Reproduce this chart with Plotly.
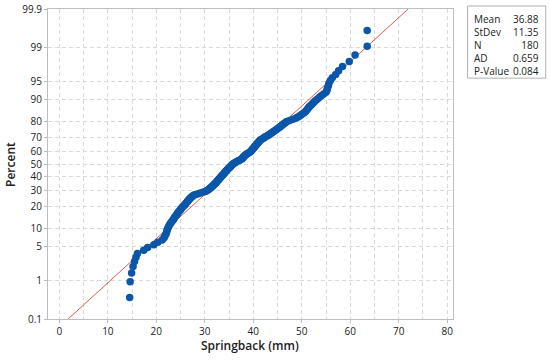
import plotly.graph_objects as go
from statistics import NormalDist

# Springback values (mm), sorted
springback = [
    14.5, 14.6, 14.9, 15.2, 15.5, 15.8, 16.1, 17.4, 18.2, 19.5,
    20.3, 21.2, 21.6, 21.8, 22.0, 22.1, 22.2, 22.3, 22.5, 22.6,
    22.8, 23.0, 23.2, 23.4, 23.6, 23.7, 23.9,
    24.1, 24.3, 24.4, 24.6, 24.8, 25.0, 25.1, 25.3,
    25.5, 25.7, 25.9, 26.0, 26.2, 26.4, 26.5, 26.7, 26.8, 27.0,
    27.2, 27.4, 27.6,
    27.9, 28.5, 29.1, 29.6, 30.1, 30.4, 30.7, 30.9, 31.1,
    31.3, 31.4, 31.6, 31.8, 31.9, 32.1, 32.2, 32.4, 32.5,
    32.6, 32.8, 32.9, 33.0, 33.2, 33.3, 33.4, 33.6, 33.7, 33.8, 34.0, 34.1, 34.2, 34.3, 34.5, 34.6,
    34.7, 34.9, 35.0, 35.2, 35.3, 35.4, 35.6, 35.7, 35.9,
    36.1, 36.4, 36.6, 36.9, 37.2, 37.4, 37.7,
    37.8, 37.9, 38.0, 38.2, 38.3,
    38.5, 38.7, 39.0, 39.2, 39.4,
    39.5, 39.7, 39.8, 39.9, 40.1, 40.2, 40.3, 40.4, 40.6, 40.7, 40.8, 41.0, 41.1,
    41.2, 41.4, 41.5,
    41.8, 42.1, 42.3, 42.6, 42.9, 43.2, 43.4, 43.7, 43.9, 44.2,
    44.4, 44.7, 44.9, 45.2, 45.4, 45.7, 45.9, 46.2, 46.4, 46.7, 46.9,
    47.5, 48.2, 48.8,
    49.1, 49.5, 49.8, 50.1, 50.5, 50.8,
    51.0, 51.2, 51.4, 51.6,
    51.9, 52.2, 52.5, 52.8,
    53.2, 53.6, 54.0,
    54.5, 55.0,
    55.2, 55.3, 55.5, 55.6, 55.9, 56.3, 57.0, 57.6, 58.4, 59.8, 61.0, 63.5, 63.5,
]

# Summary statistics shown in the legend box
stat_labels = ["Mean", "StDev", "N", "AD", "P-Value"]
stat_values = ["36.88", "11.35", "180", "0.659", "0.084"]
fit_mean = 36.88
fit_sd = 11.35

# Axis ticks
x_ticks = [0, 10, 20, 30, 40, 50, 60, 70, 80]
pct_ticks = [0.1, 1, 5, 10, 20, 30, 40, 50, 60, 70, 80, 90, 95, 99, 99.9]
pct_labels = ["0.1", "1", "5", "10", "20", "30", "40", "50", "60", "70", "80", "90", "95", "99", "99.9"]

nd = NormalDist()
n = len(springback)
# Median-rank plotting positions on the probit scale
z_pts = [nd.inv_cdf((i + 1 - 0.3) / (n + 0.4)) for i in range(n)]
z_ticks = [nd.inv_cdf(p / 100) for p in pct_ticks]
z_lo, z_hi = nd.inv_cdf(0.001), nd.inv_cdf(0.999)

fig = go.Figure()
# Fitted normal line
fig.add_trace(go.Scatter(
    x=[fit_mean + fit_sd * z_lo, fit_mean + fit_sd * z_hi],
    y=[z_lo, z_hi], mode="lines",
    line=dict(color="#e0584f", width=1), hoverinfo="skip", showlegend=False))
fig.add_trace(go.Scatter(
    x=springback, y=z_pts, mode="markers",
    marker=dict(color="#0b56a8", size=7.5, line=dict(width=0)),
    showlegend=False))

FONT = "Open Sans"
grid = dict(showgrid=True, gridcolor="#d9d9d9", gridwidth=1, griddash="4px,3px")
fig.update_layout(
    width=550, height=360,
    margin=dict(l=48, r=97, t=9, b=41),
    paper_bgcolor="white", plot_bgcolor="white",
    font=dict(family=FONT, size=10, color="#222"),
    xaxis=dict(range=[-2.35, 81.2], tickvals=x_ticks, ticktext=[str(v) for v in x_ticks],
               showline=True, mirror=True, linecolor="#bdbdbd", linewidth=1,
               ticks="outside", ticklen=3, tickcolor="#bdbdbd", zeroline=False,
               minor=dict(dtick=5, tick0=0, showgrid=True, gridcolor="#d9d9d9", griddash="4px,3px", ticks=""),
               tickfont=dict(size=10, family=FONT, color="#222"), automargin=False, **grid),
    yaxis=dict(range=[z_lo, z_hi], tickvals=z_ticks, ticktext=pct_labels,
               showline=True, mirror=True, linecolor="#bdbdbd", linewidth=1,
               ticks="outside", ticklen=3, tickcolor="#bdbdbd", zeroline=False,
               tickfont=dict(size=10, family=FONT, color="#222"), automargin=False, **grid),
)

fig.add_annotation(text="Percent", xref="paper", yref="paper", x=-0.094, y=0.5,
                   textangle=-90, showarrow=False, xanchor="center", yanchor="middle",
                   font=dict(size=12, family=FONT, color="#222", weight=600))
fig.add_annotation(text="Springback (mm)", xref="paper", yref="paper", x=0.4988, y=-0.084,
                   showarrow=False, xanchor="center", yanchor="middle",
                   font=dict(size=12, family=FONT, color="#222", weight=600))

# Stats box
fig.add_shape(type="rect", xref="paper", yref="paper", x0=1.036, x1=1.229, y0=0.777, y1=1.0097,
              line=dict(color="#b0b0b0", width=1), fillcolor="white")
fig.add_annotation(text="<br>".join(stat_labels), xref="paper", yref="paper",
                   x=(472 - 48) / 405, y=0.885, xanchor="left", yanchor="middle",
                   align="left", showarrow=False, font=dict(size=10, family=FONT, color="#222"))
fig.add_annotation(text="<br>".join(stat_values), xref="paper", yref="paper",
                   x=(541 - 48) / 405, y=0.885, xanchor="right", yanchor="middle",
                   align="right", showarrow=False, font=dict(size=10, family=FONT, color="#222"))

fig.write_html("out.html", config={"displayModeBar": False},
               post_script="document.body.style.margin='0';document.body.style.padding='0';")
